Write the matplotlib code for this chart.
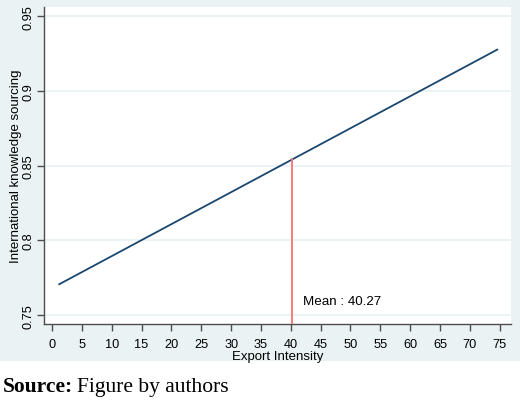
import matplotlib.pyplot as plt
from matplotlib.patches import Rectangle
import numpy as np

# fitted line (export intensity vs predicted international knowledge sourcing)
export_intensity = [1.2, 74.6]
knowledge_sourcing = [0.7707, 0.9277]
mean_x = 40.27
mean_y = 0.8546
mean_label = "Mean : 40.27"

x_ticks = list(range(0, 80, 5))
y_ticks = [0.75, 0.8, 0.85, 0.9, 0.95]
y_ticklabels = ["0.75", "0.8", "0.85", "0.9", "0.95"]

bg = "#EAF2F3"
navy = "#1A476F"
axcol = "#4D4D4D"

plt.rcParams['font.family'] = ['Liberation Sans', 'DejaVu Sans']

fig = plt.figure(figsize=(5.2, 4.02), dpi=100, facecolor="white")
fig.patches.append(Rectangle((0, 40 / 402), 1, 362 / 402, transform=fig.transFigure,
                             facecolor=bg, edgecolor="none", zorder=-5))

ax = fig.add_axes([44 / 520, 1 - 325 / 402, 467 / 520, 317 / 402])
ax.set_facecolor("white")

ax.plot(export_intensity, knowledge_sourcing, color=navy, lw=1.3, zorder=3)
ax.plot([mean_x, mean_x], [0.7441, mean_y], color="#F47272", lw=1.3, zorder=3)
ax.text(mean_x + 1.8, 0.7595, mean_label, fontsize=9.6, va="center", ha="left")

ax.set_xlim(-1.35, 76.9)
ax.set_ylim(0.7441, 0.9562)
ax.set_xticks(x_ticks)
ax.set_yticks(y_ticks)
ax.set_yticklabels(y_ticklabels, rotation=90, va="center")
ax.grid(axis="y", color=bg, lw=1.3)
ax.set_axisbelow(True)

for s in ["top", "right"]:
    ax.spines[s].set_visible(False)
for s in ["left", "bottom"]:
    ax.spines[s].set_color(axcol)
    ax.spines[s].set_linewidth(1.0)
ax.tick_params(colors=axcol, labelcolor="black", labelsize=9.2, length=5, width=1.0)
ax.tick_params(axis="x", pad=5)
ax.tick_params(axis="y", pad=2)

ax.set_xlabel("Export Intensity", fontsize=9.5, labelpad=0)
ax.set_ylabel("International knowledge sourcing", fontsize=9.5, labelpad=0)

fig.text(3 / 520, 1 - 392 / 402, "Source:", fontsize=15.5, fontweight="bold",
         family="Liberation Serif", va="baseline")
fig.text(77 / 520, 1 - 392 / 402, "Figure by authors", fontsize=15.5,
         family="Liberation Serif", va="baseline")

fig.savefig("out.png", dpi=100, facecolor="white")
